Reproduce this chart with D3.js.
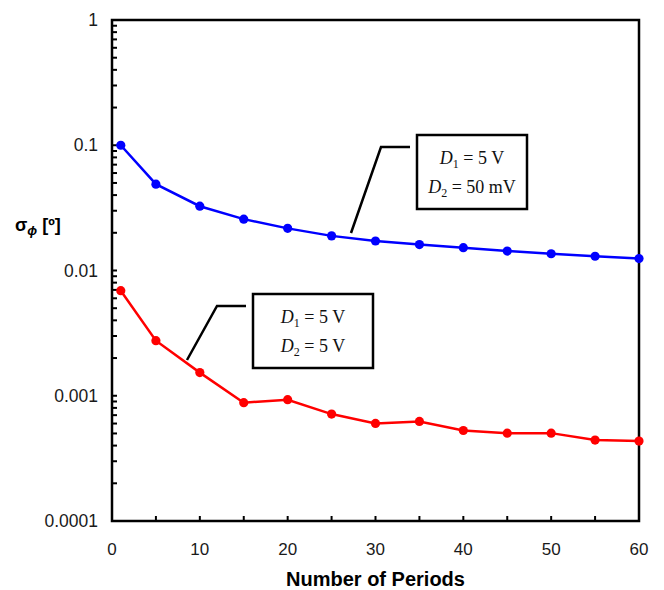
<!DOCTYPE html>
<html>
<head>
<meta charset="utf-8">
<script src="https://cdn.jsdelivr.net/npm/d3@7"></script>
<style>
  body { margin: 0; background: #fff; }
  svg { display: block; }
</style>
</head>
<body>
<div id="graph"></div>
<script>
const periods = [1, 5, 10, 15, 20, 25, 30, 35, 40, 45, 50, 55, 60];
const sigmaLow = [0.1, 0.0489, 0.0326, 0.0257, 0.0217, 0.0189, 0.0172, 0.0161, 0.0152, 0.0143, 0.0136, 0.0130, 0.01245];
const sigmaHigh = [0.0069, 0.00275, 0.00153, 0.00088, 0.00093, 0.000714, 0.000601, 0.000624, 0.000528, 0.000503, 0.000503, 0.000443, 0.000435];
const xTicks = [0, 10, 20, 30, 40, 50, 60];
const yTicks = [1, 0.1, 0.01, 0.001, 0.0001];
const yTickLabels = ['1', '0.1', '0.01', '0.001', '0.0001'];

const width = 664;
const height = 590;
const plotLeft = 112;
const plotRight = 639;
const plotTop = 20;
const plotBottom = 521;

const x = d3.scaleLinear().domain([0, 60]).range([plotLeft, plotRight]);
const y = d3.scaleLog().domain([0.0001, 1]).range([plotBottom, plotTop]);

const svg = d3.select('#graph')
  .append('svg')
  .attr('width', width)
  .attr('height', height);

// minor ticks 2..9 per decade, pointing inward
const minor = [];
[0.0001, 0.001, 0.01, 0.1].forEach(d => {
  for (let k = 1; k <= 9; k++) minor.push(d * k);
});
svg.append('g')
  .selectAll('line')
  .data(minor)
  .enter()
  .append('line')
    .attr('x1', plotLeft)
    .attr('x2', plotLeft + 5)
    .attr('y1', d => y(d))
    .attr('y2', d => y(d))
    .attr('stroke', '#000')
    .attr('stroke-width', 2);

svg.append('g')
  .selectAll('line')
  .data(d3.range(5, 60, 5))
  .enter()
  .append('line')
    .attr('x1', d => x(d))
    .attr('x2', d => x(d))
    .attr('y1', plotBottom)
    .attr('y2', plotBottom - 5)
    .attr('stroke', '#000')
    .attr('stroke-width', 2);

// frame
svg.append('rect')
  .attr('x', plotLeft)
  .attr('y', plotTop)
  .attr('width', plotRight - plotLeft)
  .attr('height', plotBottom - plotTop)
  .attr('fill', 'none')
  .attr('stroke', '#000')
  .attr('stroke-width', 2.5);

svg.append('g')
  .selectAll('text')
  .data(yTicks)
  .enter()
  .append('text')
    .attr('x', plotLeft - 14)
    .attr('y', d => y(d) + 6)
    .attr('text-anchor', 'end')
    .attr('font-family', 'Liberation Sans, Arial, sans-serif')
    .attr('font-size', 17.5)
    .attr('fill', '#1a1a1a')
    .text((d, i) => yTickLabels[i]);

svg.append('g')
  .selectAll('text')
  .data(xTicks)
  .enter()
  .append('text')
    .attr('x', d => x(d))
    .attr('y', plotBottom + 34)
    .attr('text-anchor', 'middle')
    .attr('font-family', 'Liberation Sans, Arial, sans-serif')
    .attr('font-size', 17)
    .attr('fill', '#1a1a1a')
    .text(d => d);

svg.append('text')
  .attr('x', (plotLeft + plotRight) / 2)
  .attr('y', 586)
  .attr('text-anchor', 'middle')
  .attr('font-family', 'Liberation Sans, Arial, sans-serif')
  .attr('font-size', 20)
  .attr('font-weight', 'bold')
  .text('Number of Periods');

const yTitle = svg.append('text')
  .attr('x', 15)
  .attr('y', 231)
  .attr('font-family', 'Liberation Sans, Arial, sans-serif')
  .attr('font-size', 18)
  .attr('font-weight', 'bold');
yTitle.append('tspan').text('σ');
yTitle.append('tspan').attr('dy', 4).attr('font-size', 13).attr('font-style', 'italic').text('ϕ');
yTitle.append('tspan').attr('dy', -4).text(' [º]');

const line = d3.line()
  .x((d, i) => x(periods[i]))
  .y(d => y(d));

[[sigmaLow, '#0000ff'], [sigmaHigh, '#ff0000']].forEach(([vals, color]) => {
  svg.append('path')
    .datum(vals)
    .attr('d', line)
    .attr('fill', 'none')
    .attr('stroke', color)
    .attr('stroke-width', 2.5);
  svg.append('g')
    .selectAll('circle')
    .data(vals)
    .enter()
    .append('circle')
      .attr('cx', (d, i) => x(periods[i]))
      .attr('cy', d => y(d))
      .attr('r', 4.6)
      .attr('fill', color);
});

// annotation boxes
const notes = [
  { box: [417, 135, 110, 74], leader: [[410, 147], [381, 147], [351, 233]], lines: [['1', '5 V'], ['2', '50 mV']] },
  { box: [253, 294, 120, 74], leader: [[246, 306], [217, 306], [187, 360]], lines: [['1', '5 V'], ['2', '5 V']] }
];
notes.forEach(n => {
  const [bx, by, bw, bh] = n.box;
  svg.append('path')
    .attr('d', d3.line()(n.leader))
    .attr('fill', 'none')
    .attr('stroke', '#000')
    .attr('stroke-width', 2.5);
  svg.append('rect')
    .attr('x', bx)
    .attr('y', by)
    .attr('width', bw)
    .attr('height', bh)
    .attr('fill', '#fff')
    .attr('stroke', '#000')
    .attr('stroke-width', 2.5);
  n.lines.forEach((l, i) => {
    const t = svg.append('text')
      .attr('x', bx + bw / 2)
      .attr('y', by + 29 + i * 29)
      .attr('text-anchor', 'middle')
      .attr('font-family', 'Liberation Serif, Times New Roman, serif')
      .attr('font-size', 18)
      .attr('fill', '#111');
    t.append('tspan').attr('font-style', 'italic').text('D');
    t.append('tspan').attr('dy', 4).attr('font-size', 12).text(l[0]);
    t.append('tspan').attr('dy', -4).text(' = ' + l[1]);
  });
});
</script>
</body>
</html>
